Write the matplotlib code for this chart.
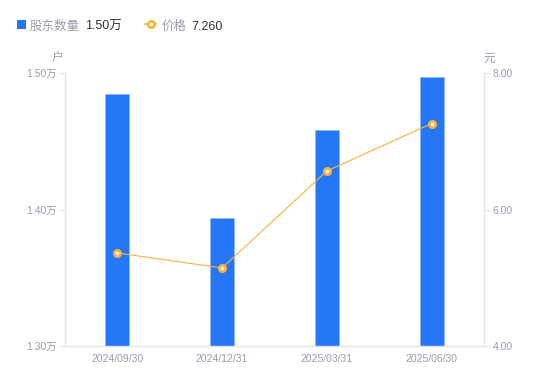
import matplotlib
matplotlib.use("Agg")
import matplotlib.pyplot as plt
from matplotlib.lines import Line2D
from matplotlib.patches import Rectangle

plt.rcParams['font.family'] = ['Liberation Sans', 'Noto Sans CJK SC', 'DejaVu Sans']

categories = ["2024/09/30", "2024/12/31", "2025/03/31", "2025/06/30"]
holders = [1.4846, 1.3938, 1.4582, 1.4970]   # 万户
price = [5.363, 5.143, 6.564, 7.260]
left_ticks = [1.30, 1.40, 1.50]
left_labels = ["1.30万", "1.40万", "1.50万"]
right_ticks = [4.00, 6.00, 8.00]
right_labels = ["4.00", "6.00", "8.00"]

BLUE = "#2577F6"
ORANGE = "#FBB13C"
GRAY = "#9A9CAE"
AXIS = "#E3E4E8"

fig = plt.figure(figsize=(5.5, 3.81), dpi=100)
ax = fig.add_axes([65/550, 35/381, (484-65)/550, (346-73)/381])
ax2 = ax.twinx()

x = list(range(len(categories)))
ax.bar(x, holders, width=0.23, color=BLUE, edgecolor="#8DB6FA", linewidth=0.6, zorder=2)
ax.set_ylim(1.30, 1.50)
ax.set_xlim(-0.5, 3.5)
ax.set_yticks(left_ticks)
ax.set_yticklabels(left_labels)
ax.set_xticks(x)
ax.set_xticklabels(categories)

ax2.plot(x, price, color=ORANGE, linewidth=0.8, marker="o", markersize=4.6,
         markerfacecolor="white", markeredgecolor=ORANGE, markeredgewidth=1.9, zorder=3)
ax2.set_ylim(4.0, 8.0)
ax2.set_yticks(right_ticks)
ax2.set_yticklabels(right_labels)

for a in (ax, ax2):
    for s in a.spines.values():
        s.set_visible(False)
ax.spines['left'].set_visible(True)
ax.spines['bottom'].set_visible(True)
ax2.spines['right'].set_visible(True)
for s in (ax.spines['left'], ax.spines['bottom'], ax2.spines['right']):
    s.set_color(AXIS)
    s.set_linewidth(1)

ax.tick_params(axis='y', colors=AXIS, labelcolor=GRAY, labelsize=7.5, length=4, width=0.8, pad=2)
ax.tick_params(axis='x', length=0, labelcolor=GRAY, labelsize=7.5, pad=6)
ax2.tick_params(axis='y', colors=AXIS, labelcolor=GRAY, labelsize=7.5, length=4, width=0.8, pad=2)

fig.text(58/550, 1-58.5/381, "户", color=GRAY, fontsize=8.5, ha="center", va="center")
fig.text(489/550, 1-58.5/381, "元", color=GRAY, fontsize=8.5, ha="center", va="center")

# legend
LY = 1 - 26.5/381
fig.patches.append(Rectangle((17/550, 1-29/381), 9/550, 9/381, transform=fig.transFigure,
                             facecolor=BLUE, edgecolor="none"))
fig.text(30/550, LY, "股东数量", color=GRAY, fontsize=9, va="center")
fig.text(85/550, LY, "1.50万", color="#333333", fontsize=9, va="center")
fig.lines.append(Line2D([145/550, 156/550], [1-24/381, 1-24/381], transform=fig.transFigure,
                        color=ORANGE, linewidth=1.2))
fig.lines.append(Line2D([150.5/550], [1-24/381], transform=fig.transFigure, color=ORANGE,
                        marker="o", markersize=4.6, markerfacecolor="white",
                        markeredgecolor=ORANGE, markeredgewidth=1.9))
fig.text(162/550, LY, "价格", color=GRAY, fontsize=9, va="center")
fig.text(191/550, LY, "7.260", color="#333333", fontsize=9, va="center")

fig.savefig("out.png", dpi=100)
